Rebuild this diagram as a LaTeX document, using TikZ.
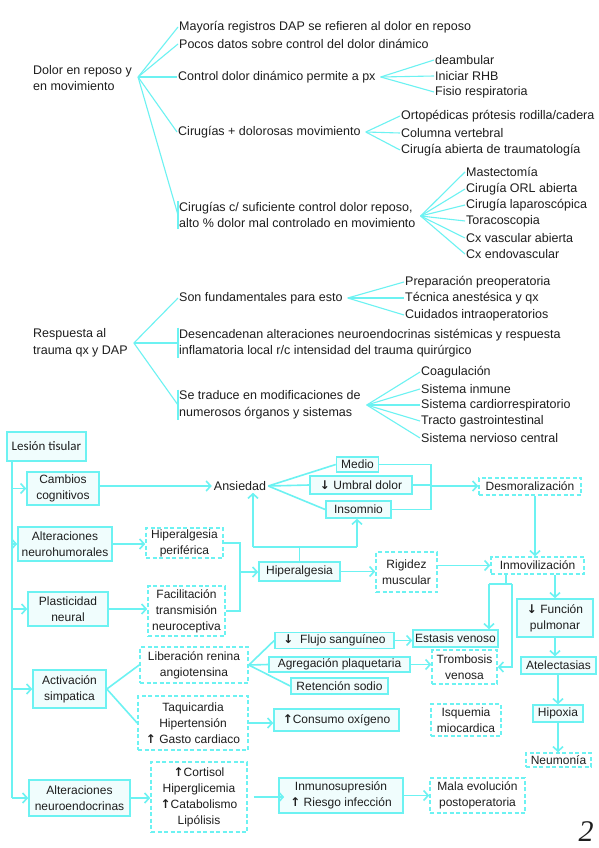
\documentclass[tikz,border=0pt]{standalone}
\usepackage{fontspec}
\setmainfont{Liberation Sans}
\newfontfamily\lesfont{Carlito}
\newfontfamily\pagefont{Liberation Serif}
\newfontfamily\arrfont{DejaVu Sans}
\usetikzlibrary{arrows.meta,calc}
\definecolor{cyanl}{RGB}{108,242,242}
\definecolor{boxfill}{RGB}{240,253,253}
\definecolor{ink}{RGB}{30,30,30}
\newcommand\fs{\fontsize{12.5}{16.5}\selectfont}
\newcommand\fb{\fontsize{12}{16}\selectfont}
\newcommand\dn{{\arrfont\bfseries ↓}}
\newcommand\up{{\arrfont\bfseries ↑}}
\tikzset{
  fan/.style={draw=cyanl, line width=1.1pt},
  lnk/.style={draw=cyanl, line width=1.6pt},
  arr/.style={lnk, -{Straight Barb[length=4.5pt,width=10pt]}},
  txt/.style={anchor=west, inner sep=1pt, align=left, font=\fs, text=ink},
  sbox/.style={draw=cyanl, line width=1.6pt, fill=boxfill, inner sep=1pt, align=center, font=\fb, text=ink},
  dbox/.style={draw=cyanl, line width=1.6pt, dash pattern=on 4pt off 2.5pt, fill=white, inner sep=1pt, align=center, font=\fb, text=ink},
  wh/.style 2 args={minimum width=#1, minimum height=#2},
}
\begin{document}
\begin{tikzpicture}[x=1pt,y=-1pt]
\useasboundingbox[fill=white] (0,0) rectangle (599,848);

% ---------- Group 1 ----------
\node[txt] (r1) at (32,78) {Dolor en reposo y\\en movimiento};
\coordinate (r1f) at ($(r1.east)+(5,-1)$);
\node[txt] (m1) at (178,27) {Mayoría registros DAP se refieren al dolor en reposo};
\node[txt] (m2) at (178,44) {Pocos datos sobre control del dolor dinámico};
\node[txt] (m3) at (177,77) {Control dolor dinámico permite a px};
\node[txt] (m4) at (177,132) {Cirugías + dolorosas movimiento};
\node[txt] (m5) at (178,215) {Cirugías c/ suficiente control dolor reposo,\\alto \% dolor mal controlado en movimiento};
\draw[fan] (r1f) -- (m1.west);
\draw[fan] (r1f) -- (m2.west);
\draw[fan] (r1f) -- (m3.west);
\draw[fan] (r1f) -- (m4.west);
\draw[fan] (r1f) -- (m5.west);
\draw[fan] (m5.north west) -- (m5.south west);

\coordinate (m3f) at ($(m3.east)+(4,0)$);
\node[txt] (l31) at (434,60) {deambular};
\node[txt] (l32) at (434,76) {Iniciar RHB};
\node[txt] (l33) at (434,92) {Fisio respiratoria};
\foreach \n in {l31,l32,l33} \draw[fan] (m3f) -- (\n.west);

\coordinate (m4f) at ($(m4.east)+(4,0)$);
\node[txt] (l41) at (400,116) {Ortopédicas prótesis rodilla/cadera};
\node[txt] (l42) at (400,133) {Columna vertebral};
\node[txt] (l43) at (400,150) {Cirugía abierta de traumatología};
\foreach \n in {l41,l42,l43} \draw[fan] (m4f) -- (\n.west);

\coordinate (m5f) at ($(m5.east)+(4,1)$);
\node[txt] (l51) at (465,172) {Mastectomía};
\node[txt] (l52) at (465,189) {Cirugía ORL abierta};
\node[txt] (l53) at (465,205) {Cirugía laparoscópica};
\node[txt] (l54) at (465,221) {Toracoscopia};
\node[txt] (l55) at (465,238) {Cx vascular abierta};
\node[txt] (l56) at (465,254) {Cx endovascular};
\foreach \n in {l51,l52,l53,l54,l55,l56} \draw[fan] (m5f) -- (\n.west);

% ---------- Group 2 ----------
\node[txt] (r2) at (32,343) {Respuesta al\\trauma qx y DAP};
\coordinate (r2f) at ($(r2.east)+(5,0)$);
\node[txt] (n1) at (178,298) {Son fundamentales para esto};
\node[txt] (n2) at (178,343) {Desencadenan alteraciones neuroendocrinas sistémicas y respuesta\\inflamatoria local r/c intensidad del trauma quirúrgico};
\node[txt] (n3) at (178,405) {Se traduce en modificaciones de\\numerosos órganos y sistemas};
\draw[fan] (r2f) -- (n1.west);
\draw[fan] (r2f) -- (n2.west);
\draw[fan] (r2f) -- (n3.west);
\draw[fan] (n2.north west) -- (n2.south west);
\draw[fan] (n3.north west) -- (n3.south west);

\coordinate (n1f) at ($(n1.east)+(4,0)$);
\node[txt] (k11) at (404,282) {Preparación preoperatoria};
\node[txt] (k12) at (404,298) {Técnica anestésica y qx};
\node[txt] (k13) at (404,315) {Cuidados intraoperatorios};
\foreach \n in {k11,k12,k13} \draw[fan] (n1f) -- (\n.west);

\coordinate (n3f) at ($(n3.east)+(5,0)$);
\node[txt] (k31) at (420,372) {Coagulación};
\node[txt] (k32) at (420,389) {Sistema inmune};
\node[txt] (k33) at (420,405) {Sistema cardiorrespiratorio};
\node[txt] (k34) at (420,421) {Tracto gastrointestinal};
\node[txt] (k35) at (420,438) {Sistema nervioso central};
\foreach \n in {k31,k32,k33,k34,k35} \draw[fan] (n3f) -- (\n.west);

% ---------- Flowchart ----------
\node[sbox, wh={79}{29}, font=\lesfont\fontsize{13}{14}\selectfont] (les) at (46.5,446.5) {Lesión tisular};
\coordinate (tk) at (12,798);
\draw[lnk] (les.south -| tk) -- (tk);

\node[sbox, wh={72}{33}] (cc) at (63,488.5) {Cambios\\cognitivos};
\node[sbox, wh={94}{34}] (anh) at (65,544) {Alteraciones\\neurohumorales};
\node[sbox, wh={80}{34}] (pla) at (68,609) {Plasticidad\\neural};
\node[sbox, wh={73}{38}] (act) at (69.5,689) {Activación\\simpatica};
\node[sbox, wh={101}{36}] (ane) at (79.5,798) {Alteraciones\\neuroendocrinas};
\foreach \n in {cc,anh,pla,act,ane} \draw[arr] (\n.west -| tk) -- (\n.west);

\node[dbox, wh={77}{30}] (hp) at (184.5,543) {Hiperalgesia\\periférica};
\node[dbox, wh={77}{50}] (fac) at (186.5,611) {Facilitación\\transmisión\\neuroceptiva};
\draw[arr] (anh.east) -- (anh.east -| hp.west);
\draw[arr] (pla.east) -- (pla.east -| fac.west);

\node[inner sep=2pt, font=\fs, text=ink] (ans) at (240,486) {Ansiedad};
\draw[arr] (cc.east |- ans.west) -- (ans.west);

\node[sbox, wh={42}{15}] (med) at (357.5,464.5) {Medio};
\node[sbox, wh={102}{18}] (umb) at (361,485) {\dn\ Umbral dolor};
\node[sbox, wh={65}{17}] (ins) at (358.5,509.5) {Insomnio};
\draw[lnk] (ans.east) -- (med.west);
\draw[lnk] (ans.east) -- (umb.west);
\draw[lnk] (ans.east) -- (ins.west);

\node[dbox, wh={102}{17}] (des) at (530,486.5) {Desmoralización};
\coordinate (br) at (431,486);
\draw[lnk] (med.east) -- (med.east -| br) -- (ins.east -| br) -- (ins.east);
\draw[lnk] (umb.east) -- (umb.east -| br);
\draw[arr] (br) -- (br -| des.west);

\node[sbox, wh={81}{19}] (hip) at (299.5,571.5) {Hiperalgesia};
\coordinate (hb) at (240,572);
\draw[lnk] (hp.east) -- (hp.east -| hb) -- (fac.east -| hb) -- (fac.east);
\draw[arr] (hb) -- (hb -| hip.west);
\coordinate (hul) at (253,547);
\coordinate (hur) at (357,547);
\draw[lnk] (hip.north) -- (hip.north |- hul);
\draw[lnk] (hul) -- (hur);
\draw[arr] (hul) -- (hul |- ans.south);
\draw[arr] (hur) -- (hur |- ins.south);

\node[dbox, wh={61}{40}] (rig) at (406.5,572) {Rigidez\\muscular};
\draw[arr] (hip.east) -- (hip.east -| rig.west);

\node[dbox, wh={93}{17}] (inm) at (537.5,565.5) {Inmovilización};
\draw[arr] (inm.west -| rig.east) -- (inm.west);
\draw[arr] ([xshift=5pt]des.south) -- ([xshift=5pt]des.south |- inm.north);

\node[sbox, wh={76}{38}] (fun) at (555,618) {\dn\ Función\\pulmonar};
\node[sbox, wh={75}{17}] (ate) at (558.5,665.5) {Atelectasias};
\node[sbox, wh={50}{17}] (hyp) at (558,713.5) {Hipoxia};
\node[dbox, wh={65}{14}] (neu) at (558.5,760) {Neumonía};
\draw[arr] (inm.south -| fun.north) -- (fun.north);
\draw[arr] (fun.south) -- (fun.south |- ate.north);
\draw[arr] (hyp.north |- ate.south) -- (hyp.north);
\draw[arr] (hyp.south) -- (hyp.south |- neu.north);

\node[sbox, wh={85}{17}] (est) at (455.5,638.5) {Estasis venoso};
\node[dbox, wh={65}{34}] (tro) at (464.5,667) {Trombosis\\venosa};
\coordinate (ib) at (506,584);
\coordinate (ibl) at (489,584);
\coordinate (ibr) at (512,584);
\draw[lnk] (inm.south -| ib) -- (ib);
\draw[lnk] (ibl) -- (ibr);
\draw[arr] (ibl) -- (ibl |- est.north);
\draw[arr] (ibr) -- (ibr |- tro.east) -- (tro.east);

\node[dbox, wh={108}{36}] (lib) at (194,665) {Liberación renina\\angiotensina};
\node[dbox, wh={110}{54}] (taq) at (193,723) {Taquicardia\\Hipertensión\\\up\ Gasto cardiaco};
\draw[lnk] (act.east) -- (lib.west);
\draw[lnk] (act.east) -- (taq.west);

\node[sbox, wh={119}{16}] (flu) at (334.5,640.5) {\dn\ \ Flujo sanguíneo};
\node[sbox, wh={141}{15}] (agr) at (339.5,664.5) {Agregación plaquetaria};
\node[sbox, wh={97}{16}] (ret) at (339.5,686) {Retención sodio};
\draw[lnk] (lib.east) -- (flu.west);
\draw[lnk] (lib.east) -- (agr.west);
\draw[lnk] (lib.east) -- (ret.west);
\draw[arr] (flu.east) -- (flu.east -| est.west);
\draw[arr] (agr.east) -- (agr.east -| tro.west);

\node[sbox, wh={125}{22}] (con) at (336.5,720) {\up Consumo oxígeno};
\draw[arr] (taq.east) -- (taq.east -| con.west);
\node[dbox, wh={70}{32}] (isq) at (466,720) {Isquemia\\miocardica};

\node[dbox, wh={96}{70}] (cor) at (199,797) {\up Cortisol\\Hiperglicemia\\\up Catabolismo\\Lipólisis};
\draw[arr] (ane.east) -- (ane.east -| cor.west);
\node[sbox, wh={124}{35}] (imu) at (341,795.5) {Inmunosupresión\\\up\ Riesgo infección};
\node[dbox, wh={95}{35}] (mal) at (477.5,795.5) {Mala evolución\\postoperatoria};
\draw[arr] ([xshift=6pt]cor.east) -- ([xshift=6pt]cor.east -| imu.west);
\draw[arr] (imu.east) -- (imu.east -| mal.west);

\node[font=\pagefont\itshape\fontsize{30}{30}\selectfont, text=ink] (pg) at (586,832) {2};
\end{tikzpicture}
\end{document}
